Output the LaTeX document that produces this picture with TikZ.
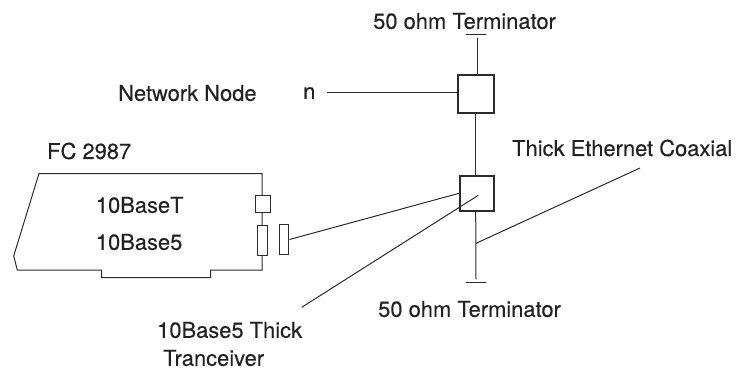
\documentclass[tikz,border=0pt]{standalone}
\usepackage{fontspec}
\usepackage{xcolor}
\setmainfont[FakeBold=0.25]{TeX Gyre Heros}
\usetikzlibrary{positioning}
\definecolor{inkgray}{HTML}{2B2B2B}
\definecolor{labelgray}{HTML}{222222}
\tikzset{
    lbl/.style={anchor=west, inner sep=0pt, text=labelgray, font=\fontsize{21.9}{24}\selectfont},
    wire/.style={draw=inkgray, line width=1pt},
    tapbox/.style={draw=inkgray, line width=1.6pt, fill=white, inner sep=0pt},
    portbox/.style={draw=inkgray, line width=1pt, fill=white, inner sep=0pt}
}

\begin{document}
\begin{tikzpicture}[x=1pt, y=-1pt]
    \useasboundingbox (0,0) rectangle (737,373);

    % adapter card
    \draw[wire] (262,173.5) -- (39,173.5) -- (13.7,256) -- (17.3,270) -- (101.7,270)
        -- (101.7,277.7) -- (210.7,277.7) -- (210.7,270) -- (262,270) -- cycle;

    \node[portbox, minimum width=15pt, minimum height=17pt] (portT) at (262.5,203.5) {};
    \node[portbox, minimum width=9.5pt, minimum height=30pt] (port5) at (262.3,240) {};
    \node[portbox, minimum width=9.5pt, minimum height=30pt] (plug) at (284.2,239.5) {};

    % coax boxes and terminators
    \node[tapbox, minimum width=36pt, minimum height=38.5pt] (nodebox) at (475.7,94) {};
    \node[tapbox, minimum width=33.5pt, minimum height=35pt] (tapbox) at (477,193.2) {};

    \coordinate (termtop) at (477,38);
    \coordinate (termbot) at (476,279.3);
    \coordinate (netend) at (327,92.7);
    \coordinate (coaxtap) at (476,243.3);
    \coordinate (coaxend) at (640,168);
    \coordinate (xcvrtip) at (478.3,195.3);
    \coordinate (xcvrend) at (301.7,307.3);

    \draw[wire] (termtop) -- (termtop |- nodebox.north);
    \draw[wire] (nodebox.south) -- (nodebox.south |- tapbox.north);
    \draw[wire] (nodebox.south |- tapbox.south) -- (termbot);
    \draw[wire] (465.7,34.3) -- (486,34.3);
    \draw[wire] (465.7,282.3) -- (486,282.3);

    \draw[wire] (netend) -- (netend -| nodebox.west);
    \draw[wire] (plug.east) -- (tapbox.west);
    \draw[wire] (coaxtap) -- (coaxend);
    \draw[wire] (xcvrtip) -- (xcvrend);

    % labels
    \node[lbl] (termtoplbl) at (373,21) {50 ohm Terminator};
    \node[lbl] (termbotlbl) at (378,309) {50 ohm Terminator};
    \node[lbl] (netlbl) at (118,93) {Network Node};
    \node[lbl] (nlbl) at (303,93) {n};
    \node[lbl] (cardlbl) at (47,151) {FC 2987};
    \node[lbl] (baseTlbl) at (95.7,205) {10BaseT};
    \node[lbl] (base5lbl) at (95.7,242) {10Base5};
    \node[lbl] (coaxlbl) at (512,148) {Thick Ethernet Coaxial};
    \node[lbl] (xcvrlbla) at (157,330) {10Base5 Thick};
    \node[lbl] (xcvrlblb) at (163,358) {Tranceiver};
\end{tikzpicture}
\end{document}
